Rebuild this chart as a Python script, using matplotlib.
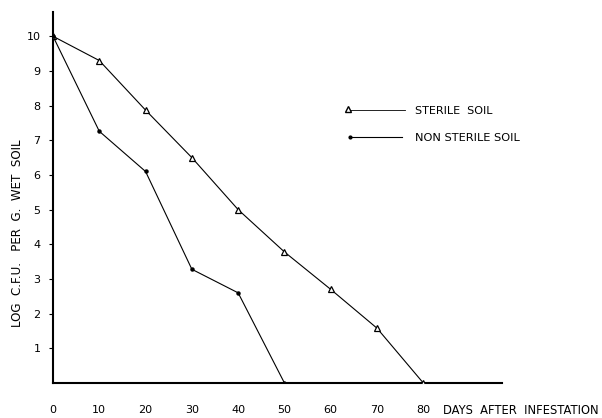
import matplotlib
matplotlib.use('Agg')
import matplotlib.pyplot as plt

days = [0, 10, 20, 30, 40, 50, 60, 70, 80]
sterile_soil = [10.0, 9.3, 7.87, 6.5, 5.0, 3.78, 2.7, 1.58, 0.0]

days_non_sterile = [0, 10, 20, 30, 40, 50]
non_sterile_soil = [10.0, 7.26, 6.1, 3.28, 2.6, 0.0]

y_ticks = [1, 2, 3, 4, 5, 6, 7, 8, 9, 10]
x_ticks = [0, 10, 20, 30, 40, 50, 60, 70, 80]

plt.rcParams['font.family'] = ['DejaVu Sans']

fig = plt.figure(figsize=(6.02, 4.18), dpi=100)
ax = fig.add_axes([53 / 602, 35 / 418, 449 / 602, 371 / 418])

ax.plot(days, sterile_soil, color='black', lw=0.8, marker='^', ms=4,
        mfc='white', mec='black', mew=0.9, zorder=3)
ax.plot(days_non_sterile, non_sterile_soil, color='black', lw=0.8,
        marker='o', ms=2.2, zorder=3)

ax.set_xlim(0, 97)
ax.set_ylim(0, 10.7)

for side in ['top', 'right']:
    ax.spines[side].set_visible(False)
ax.spines['left'].set_linewidth(1.5)
ax.spines['bottom'].set_linewidth(1.5)

ax.set_yticks(y_ticks)
ax.set_yticklabels([str(v) for v in y_ticks], fontsize=8)
ax.tick_params(axis='y', length=3, width=0.8, pad=6)

ax.set_xticks(x_ticks)
ax.set_xticklabels([str(v) for v in x_ticks], fontsize=8)
ax.tick_params(axis='x', length=0, pad=16)

fig.text(443 / 602, 1 - 410 / 418, 'DAYS  AFTER  INFESTATION',
         fontsize=8.3, va='center', ha='left')
fig.text(18 / 602, 1 - 233 / 418, 'LOG  C.F.U.   PER  G.  WET  SOIL', rotation=90,
         fontsize=8.6, va='center', ha='center')

# legend drawn by hand to mimic the original layout
leg_ax = fig.transFigure
fig.lines.append(plt.Line2D([348 / 602, 405 / 602], [1 - 110 / 418, 1 - 110 / 418],
                            transform=leg_ax, color='black', lw=0.6))
fig.lines.append(plt.Line2D([348 / 602], [1 - 109 / 418], transform=leg_ax,
                            marker='^', ms=4, mfc='white', mec='black', lw=0))
fig.text(415 / 602, 1 - 111 / 418, 'STERILE  SOIL', fontsize=8, va='center')
fig.lines.append(plt.Line2D([350 / 602, 402 / 602], [1 - 137 / 418, 1 - 137 / 418],
                            transform=leg_ax, color='black', lw=0.8,
                            marker='o', ms=2, markevery=[0]))
fig.text(415 / 602, 1 - 138 / 418, 'NON STERILE SOIL', fontsize=8.2, va='center')

fig.savefig('out.png', dpi=100)
